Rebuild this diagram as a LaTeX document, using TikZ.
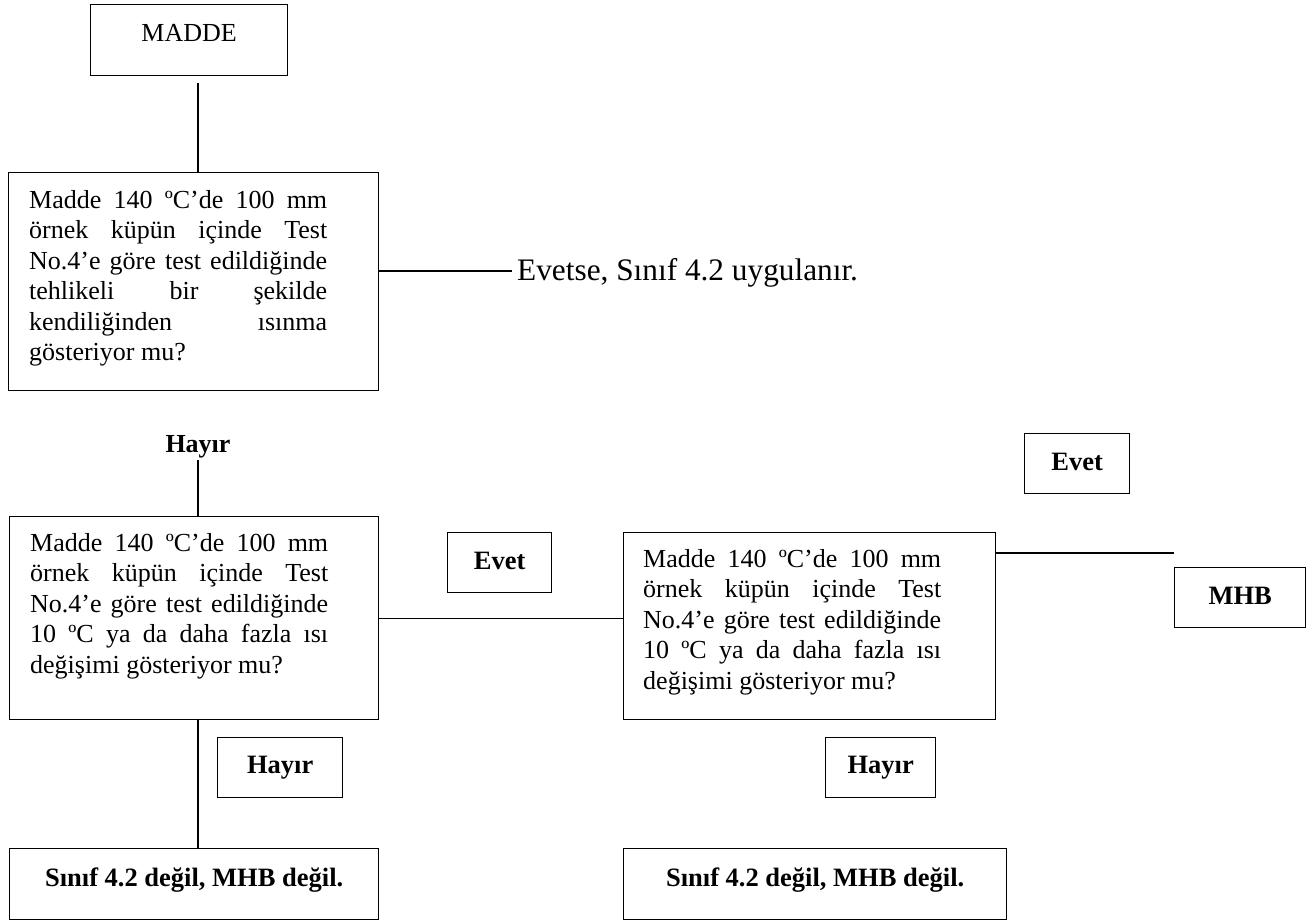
\documentclass[tikz,border=0pt]{standalone}
\usepackage{fontspec}
\setmainfont{Liberation Serif}
\newcommand{\J}[1]{\makebox[298pt][s]{#1}}
\begin{document}
\begin{tikzpicture}[x=1pt,y=-1pt,
  every node/.style={inner sep=0pt},
  box/.style={draw, line width=1.3pt, anchor=north west, inner sep=0pt,
    font=\fontsize{26}{30.5}\selectfont},
  boldbox/.style={box, font=\bfseries\fontsize{26.5}{30.5}\selectfont},
  body/.style={anchor=base west, inner sep=0pt, font=\fontsize{26}{30.5}\selectfont},
  conn/.style={line width=1.3pt}]
\useasboundingbox (0,0) rectangle (1308,921);

% top
\node[box, minimum width=197pt, minimum height=71pt, text depth=14pt] (madde) at (90,4) {MADDE};
\node[box, minimum width=370pt, minimum height=218pt] (q1) at (8,172) {};
\node[body] (q1t) at (29,208) {\parbox[t]{298pt}{\J{Madde 140 ºC’de 100 mm}\\\J{örnek küpün içinde Test}\\\J{No.4’e göre test edildiğinde}\\\J{tehlikeli bir şekilde}\\\J{kendiliğinden ısınma}\\gösteriyor mu?}};
\coordinate (c0) at (198,83);
\draw[conn] (c0) -- (c0 |- q1.north);

\node[anchor=base west, inner xsep=5pt, font=\fontsize{31.3}{36}\selectfont] (ev1) at (512,280) {Evetse, Sınıf 4.2 uygulanır.};
\draw[conn] (q1.east |- 0,271) -- (ev1.west |- 0,271);

% middle left
\node[anchor=base, inner sep=2pt, font=\bfseries\fontsize{26}{30.5}\selectfont] (h1) at (198,452) {Hayır};
\node[box, minimum width=369pt, minimum height=203pt] (q2) at (9,516) {};
\node[body] (q2t) at (30,551) {\parbox[t]{298pt}{\J{Madde 140 ºC’de 100 mm}\\\J{örnek küpün içinde Test}\\\J{No.4’e göre test edildiğinde}\\\J{10 ºC ya da daha fazla ısı}\\değişimi gösteriyor mu?}};
\draw[conn] (h1.south) -- (h1.south |- q2.north);

\node[boldbox, minimum width=104pt, minimum height=60pt, text depth=4pt] (evm) at (447,532) {Evet};
\node[boldbox, minimum width=125pt, minimum height=60pt] (hl) at (217,737) {Hayır};

% middle right
\node[box, minimum width=372pt, minimum height=187pt] (q3) at (623,532) {};
\node[body] (q3t) at (643,567) {\parbox[t]{298pt}{\J{Madde 140 ºC’de 100 mm}\\\J{örnek küpün içinde Test}\\\J{No.4’e göre test edildiğinde}\\\J{10 ºC ya da daha fazla ısı}\\değişimi gösteriyor mu?}};
\draw[conn] (q2.east) -- (q2.east -| q3.west);

\node[boldbox, minimum width=105pt, minimum height=60pt, text depth=4pt] (evr) at (1024,433) {Evet};
\node[boldbox, minimum width=131pt, minimum height=60pt, text depth=4pt] (mhb) at (1174,567) {MHB};
\draw[conn] (q3.east |- 0,553) -- (mhb.west |- 0,553);
\node[boldbox, minimum width=110pt, minimum height=60pt] (hr) at (825,737) {Hayır};

% bottom
\node[boldbox, minimum width=369pt, minimum height=71pt, text depth=14pt] (bl) at (9,848) {Sınıf 4.2 değil, MHB değil.};
\node[boldbox, minimum width=383pt, minimum height=71pt, text depth=14pt] (br) at (623,848) {Sınıf 4.2 değil, MHB değil.};
\draw[conn] (h1.south |- q2.south) -- (h1.south |- bl.north);
\end{tikzpicture}
\end{document}
